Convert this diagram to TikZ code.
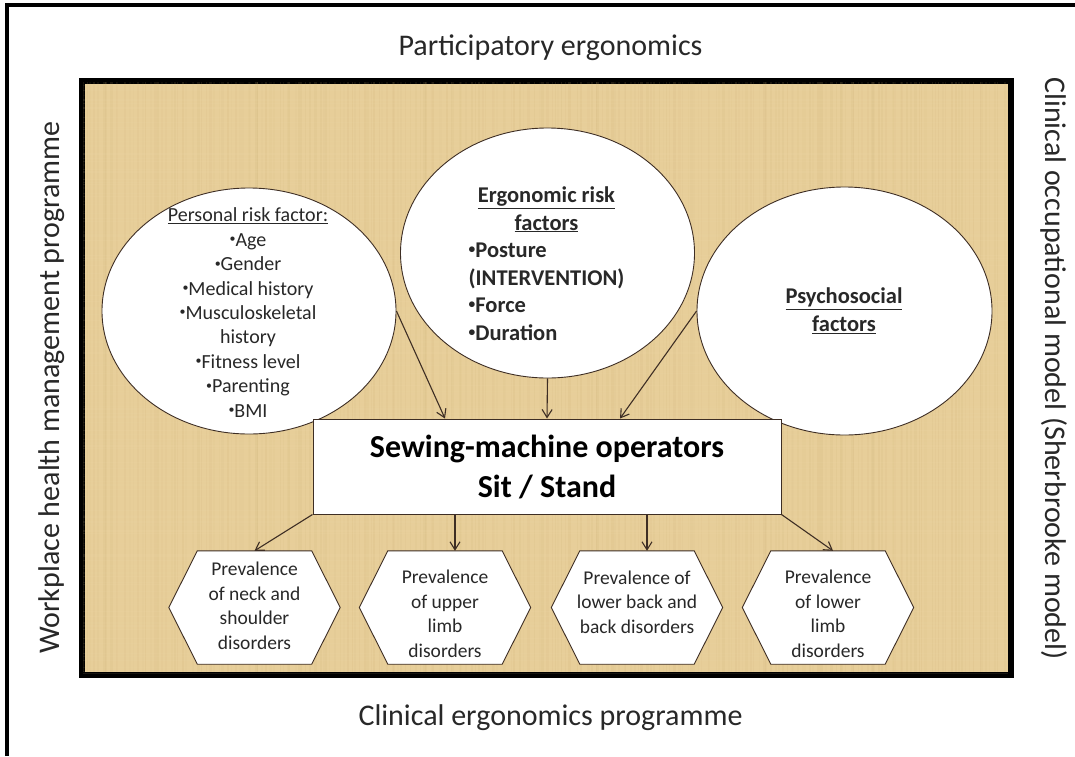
\documentclass[tikz,border=0pt]{standalone}
\usepackage{fontspec}
\usepackage{graphicx}
\setmainfont{Carlito}
\usetikzlibrary{arrows.meta,shapes.geometric,calc}
\definecolor{parch}{RGB}{231,206,153}
\definecolor{parchdark}{RGB}{205,176,118}
\definecolor{parchlight}{RGB}{242,224,180}
\definecolor{ink}{RGB}{62,46,36}
\definecolor{txt}{RGB}{40,40,40}
\newcommand{\bul}{\raisebox{0.18em}{\scalebox{0.6}{•}}}
\begin{document}
\begin{tikzpicture}[x=1pt,y=-1pt,
  lbl/.style={font=\fontsize{30}{36}\selectfont, text=txt, inner sep=0pt},
  bubble/.style={ellipse, draw=ink, line width=0.9pt, fill=white, inner sep=0pt},
  arr/.style={draw=ink, line width=1.1pt, -{Straight Barb[length=8pt,width=10pt]}},
  hexnode/.style={minimum width=114pt, minimum height=113pt, inner sep=0pt},
  hexline/.style={draw=ink, line width=0.9pt, fill=white},
  hextext/.style={align=center, text=txt, font=\fontsize{19.5}{24.5}\selectfont, inner sep=0pt},
]
\useasboundingbox (0,0) rectangle (1075,756);
\fill[white] (0,0) rectangle (1075,756);
% outer frame (only top and left edges are visible)
\draw[line width=3.5pt, black] (7,756) -- (7,5) -- (1075,5);

% parchment panel
\node (panel) [draw=black, line width=4pt, fill=parch, minimum width=927pt, minimum height=592pt, inner sep=0pt] at (546.5,378) {};
\pgfmathsetseed{11}
\begin{scope}
  \clip (panel.north west) rectangle (panel.south east);
  \foreach \xx in {0,...,230} {
    \pgfmathsetmacro{\op}{0.04+0.12*rnd}
    \pgfmathsetmacro{\lw}{0.8+2.2*rnd}
    \pgfmathsetmacro{\dx}{\xx*4+4*rnd}
    \draw[parchdark, opacity=\op, line width=\lw pt] ($(panel.north west)+(\dx,0)$) -- ++(0,592);
  }
  \foreach \yy in {0,...,150} {
    \pgfmathsetmacro{\op}{0.03+0.08*rnd}
    \pgfmathsetmacro{\dy}{\yy*4+4*rnd}
    \draw[parchlight, opacity=\op, line width=1.2pt] ($(panel.north west)+(0,\dy)$) -- ++(927,0);
  }
\end{scope}
\draw[line width=4pt, black] (panel.north west) rectangle (panel.south east);

% side labels
\node (ttop) [lbl] at (550.5,48) {Participatory ergonomics};
\node (tbot) [lbl] at (550.5,718) {Clinical ergonomics programme};
\node (tleft) [lbl, rotate=90] at (52,387.5) {Workplace health management programme};
\node (tright) [lbl, rotate=-90] at (1054,368.5) {Clinical occupational model (Sherbrooke model)};

% ellipses
\node (pers) [bubble, minimum width=294pt, minimum height=246pt] at (249,311) {};
\node (ergo) [bubble, minimum width=294pt, minimum height=250pt] at (547.5,253) {};
\node (psych) [bubble, minimum width=295pt, minimum height=248pt] at (844.5,311) {};

\node (perst) [align=center, text=txt, font=\fontsize{20}{24.4}\selectfont, inner sep=0pt] at (248,312.5)
  {\underline{Personal risk factor:}\\\bul Age\\\bul Gender\\\bul Medical history\\\bul Musculoskeletal\\history\\\bul Fitness level\\\bul Parenting\\\bul BMI};
\node (ergot) [text=txt, font=\bfseries\fontsize{22.5}{27.6}\selectfont, inner sep=0pt] at (546.5,266)
  {\begin{tabular}{@{}l@{}}\multicolumn{1}{@{}c@{}}{\underline{Ergonomic risk}}\\
   \multicolumn{1}{@{}c@{}}{\underline{factors}}\\
   \bul Posture\\ (INTERVENTION)\\ \bul Force\\ \bul Duration\end{tabular}};
\node (psycht) [align=center, text=txt, font=\bfseries\fontsize{22.5}{28}\selectfont, inner sep=0pt] at (844,311)
  {\underline{Psychosocial}\\\underline{factors}};

% central box
\node (box) [draw=ink, line width=1pt, fill=white, minimum width=468pt, minimum height=95pt, inner sep=0pt,
  align=center, text=black, font=\bfseries\fontsize{32}{40}\selectfont] at (547,466.5)
  {Sewing-machine operators\\Sit / Stand};

% hexagons
\node (h1) [hexnode] at (254.5,607.5) {};
\node (h2) [hexnode] at (445,607.5) {};
\node (h3) [hexnode] at (637,607.5) {};
\node (h4) [hexnode] at (828,607.5) {};
\foreach \h in {h1,h2,h3,h4} {
  \draw[hexline] (\h.north west) -- (\h.north east) -- ([xshift=28.5pt]\h.east)
    -- (\h.south east) -- (\h.south west) -- ([xshift=-28.5pt]\h.west) -- cycle;
}
\node (t1) [hextext] at (254.5,605.6) {Prevalence\\of neck and\\shoulder\\disorders};
\node (t2) [hextext] at (445,614) {Prevalence\\of upper\\limb\\disorders};
\node (t3) [hextext] at (637,602) {Prevalence of\\lower back and\\back disorders};
\node (t4) [hextext] at (828,614) {Prevalence\\of lower\\limb\\disorders};

% connectors
\coordinate (in1) at ([xshift=-102pt]box.north);
\coordinate (in3) at ([xshift=73pt]box.north);
\coordinate (out2) at ([xshift=10pt]h2.north);
\coordinate (out3) at ([xshift=10pt]h3.north);
\coordinate (out4) at ([xshift=5pt]h4.north);
\draw[arr] (pers.east) -- (in1);
\draw[arr] (ergo.south) -- (box.north);
\draw[arr] (psych.west) -- (in3);
\draw[arr] (box.south west) -- (h1.north);
\draw[arr] (box.south -| out2) -- (out2);
\draw[arr] (box.south -| out3) -- (out3);
\draw[arr] (box.south east) -- (out4);
\end{tikzpicture}
\end{document}
